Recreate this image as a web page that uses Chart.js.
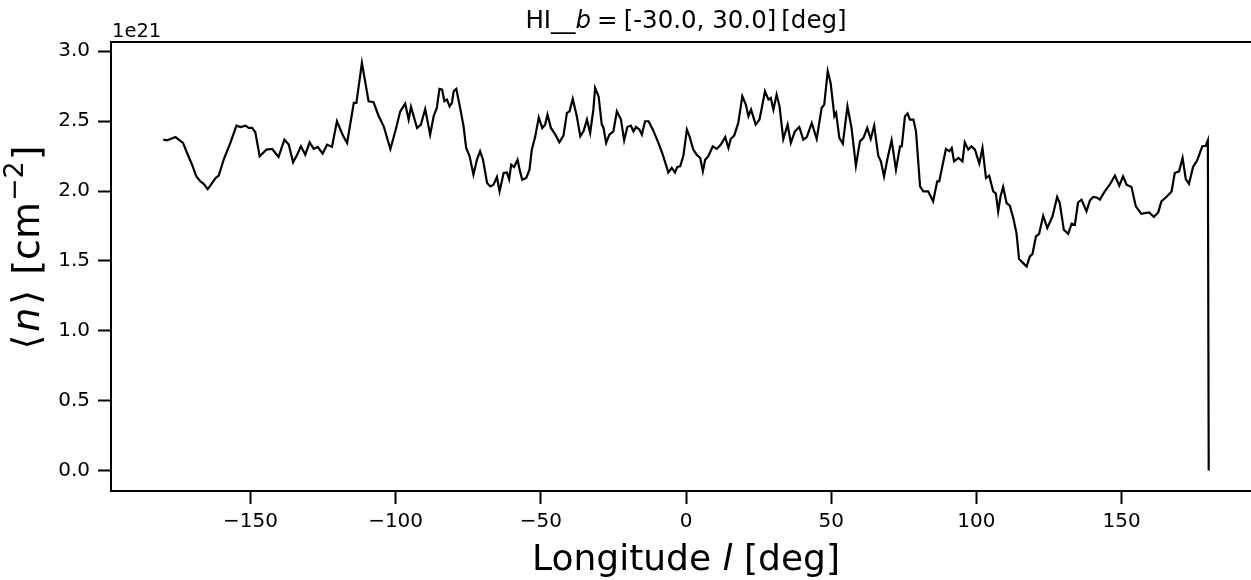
<!DOCTYPE html>
<html>
<head>
<meta charset="utf-8">
<script src="https://cdn.jsdelivr.net/npm/chart.js@4.4.1/dist/chart.umd.min.js"></script>
<style>
  html, body { margin: 0; padding: 0; background: #fff; overflow: hidden; }
  #wrap { width: 1251px; height: 580px; overflow: hidden; position: relative; }
  #chart { display: block; position: absolute; left: 0; top: 0; }
</style>
</head>
<body>
<div id="wrap"><canvas id="chart" width="1275" height="580"></canvas></div>
<script>
// galactic longitude [deg]
const longitude = [
  -180.0, -178.7, -177.5, -175.8, -174.7, -173.2, -171.8, -170.1, -168.6, -167.2,
  -166.1, -164.7, -163.2, -162.0, -160.9, -159.2, -156.9, -154.8, -153.4, -151.7,
  -150.6, -149.4, -148.3, -146.8, -144.5, -142.5, -140.3, -138.3, -136.8, -135.3,
  -133.9, -132.6, -131.1, -129.6, -128.2, -126.8, -125.1, -123.6, -121.9, -120.2,
  -118.1, -116.7, -114.4, -113.5, -111.6, -109.3, -107.6, -105.8, -104.1, -101.8,
  -100.1, -98.4, -96.7, -95.5, -94.7, -92.6, -91.3, -89.8,
  -88.1, -86.9, -85.8, -84.9, -84.0, -83.2, -82.3, -81.4, -80.6, -80.0,
  -79.1, -78.0, -76.6, -75.7, -74.5, -73.2, -72.0, -70.9, -69.9, -68.5,
  -67.4, -66.3, -65.1, -64.2, -62.8, -61.7, -60.9, -60.2, -59.2, -58.0,
  -57.3, -56.4, -55.0, -53.9, -53.1, -51.9, -50.7, -49.5, -48.5, -47.7,
  -46.5, -45.0, -43.6, -42.2, -41.0, -40.1, -39.0, -37.6, -36.4, -35.3,
  -34.1, -33.0, -31.9, -31.3, -30.1, -29.0, -28.4, -27.5, -26.4, -25.0,
  -23.8, -22.4, -21.3, -20.2, -19.0, -18.1, -17.2, -16.0, -15.2, -14.1,
  -12.9, -11.4, -9.5, -8.0, -6.1, -4.9, -3.8, -3.0, -2.0, -0.9,
  0.3, 1.2, 2.5, 3.7,
  4.9, 5.8, 6.6, 7.7, 9.2, 10.6, 12.0, 13.5, 14.6, 15.4,
  16.6, 18.0, 19.4, 20.6, 21.5, 22.4, 24.0, 25.3, 26.1, 27.2,
  28.4, 29.2, 30.1, 31.2, 32.2, 33.5, 35.0, 36.1, 37.5, 39.0,
  40.4, 41.6, 43.3, 45.0, 46.7, 47.6, 48.8, 49.8, 51.1, 51.7,
  52.8, 54.0, 55.6, 57.0, 58.5, 59.9, 61.1, 62.4, 63.6, 64.8,
  66.2, 67.1, 68.2, 69.3, 70.8, 72.3, 73.7, 74.3, 75.4, 76.3,
  77.1, 78.3, 79.2, 80.6, 81.7, 83.4, 85.1, 86.5, 87.2, 89.5,
  90.7, 91.5, 92.3, 93.8,
  95.2, 96.0, 97.2, 98.3, 99.5, 101.0, 102.1, 103.3, 104.4, 105.8,
  106.7, 107.5, 108.3, 109.2, 110.4, 111.5, 112.7, 113.8, 114.7, 116.1,
  117.3, 118.4, 119.3, 120.5, 121.6, 123.0, 124.4, 126.2, 127.8, 128.7,
  130.1, 131.6, 132.8, 133.9, 135.0, 136.2, 137.9, 139.1, 140.2, 141.4,
  142.5, 144.2, 145.9, 147.7, 149.2, 150.5, 151.7, 153.4, 154.9, 156.8,
  158.0, 159.5, 161.1, 162.6, 163.7, 165.4, 167.2, 168.3, 169.8, 171.0,
  172.1, 173.2, 174.6, 176.0, 177.8, 179.0, 179.7, 180.0
];

// mean HI column density, in units of 1e21 cm^-2
const columnDensity = [
  2.367, 2.363, 2.372, 2.386, 2.367, 2.344, 2.272, 2.188, 2.105, 2.069,
  2.052, 2.014, 2.057, 2.093, 2.110, 2.224, 2.344, 2.468, 2.458, 2.468,
  2.451, 2.451, 2.420, 2.248, 2.296, 2.301, 2.244, 2.367, 2.332, 2.205,
  2.260, 2.320, 2.260, 2.348, 2.301, 2.315, 2.267, 2.332, 2.315, 2.499,
  2.396, 2.344, 2.630, 2.630, 2.917, 2.642, 2.635, 2.535, 2.463, 2.301,
  2.427, 2.570, 2.625, 2.511, 2.602, 2.451, 2.475, 2.587,
  2.403, 2.535, 2.594, 2.731, 2.726, 2.642, 2.654, 2.606, 2.630, 2.714,
  2.731, 2.618, 2.463, 2.308, 2.249, 2.117, 2.224, 2.284, 2.224, 2.057,
  2.033, 2.045, 2.100, 1.997, 2.129, 2.133, 2.084, 2.188, 2.172, 2.224,
  2.153, 2.081, 2.093, 2.153, 2.296, 2.391, 2.527, 2.451, 2.475, 2.546,
  2.451, 2.403, 2.348, 2.396, 2.559, 2.570, 2.659, 2.535, 2.391, 2.427,
  2.511, 2.415, 2.582, 2.738, 2.678, 2.475, 2.451, 2.344, 2.403, 2.427,
  2.570, 2.511, 2.363, 2.458, 2.468, 2.427, 2.458, 2.439, 2.403, 2.499,
  2.499, 2.439, 2.344, 2.260, 2.133, 2.165, 2.133, 2.172, 2.176, 2.252,
  2.439, 2.391, 2.296, 2.260,
  2.236, 2.141, 2.224, 2.249, 2.320, 2.301, 2.332, 2.386, 2.308, 2.372,
  2.396, 2.487, 2.678, 2.618, 2.535, 2.582, 2.475, 2.511, 2.594, 2.714,
  2.654, 2.666, 2.582, 2.690, 2.606, 2.372, 2.475, 2.344, 2.427, 2.458,
  2.367, 2.386, 2.487, 2.372, 2.594, 2.618, 2.857, 2.773, 2.535, 2.559,
  2.380, 2.339, 2.606, 2.451, 2.180, 2.355, 2.380, 2.451, 2.372, 2.468,
  2.252, 2.212, 2.104, 2.224, 2.363, 2.153, 2.320, 2.320, 2.535, 2.554,
  2.511, 2.511, 2.427, 2.033, 1.997, 1.997, 1.926, 2.069, 2.069, 2.301,
  2.284, 2.308, 2.212, 2.236,
  2.212, 2.348, 2.296, 2.320, 2.296, 2.196, 2.308, 2.093, 2.110, 1.997,
  1.981, 1.854, 1.961, 2.029, 1.914, 1.895, 1.806, 1.699, 1.513, 1.484,
  1.460, 1.532, 1.549, 1.675, 1.694, 1.823, 1.735, 1.818, 1.957, 1.914,
  1.723, 1.694, 1.766, 1.759, 1.918, 1.938, 1.854, 1.933, 1.957, 1.954,
  1.938, 1.997, 2.045, 2.110, 2.038, 2.105, 2.045, 2.029, 1.890, 1.837,
  1.842, 1.847, 1.814, 1.847, 1.926, 1.957, 1.997, 2.129, 2.141, 2.236,
  2.086, 2.052, 2.172, 2.219, 2.320, 2.324, 2.362, 0.0
];

const xTicks = [-150, -100, -50, 0, 50, 100, 150];
const yTicks = [0, 0.5, 1.0, 1.5, 2.0, 2.5, 3.0];

const FONT = "'DejaVu Sans', 'Noto Sans', sans-serif";

// draw a row of text pieces (mixed italic / superscript) starting at x
function drawRun(ctx, parts, x, y) {
  parts.forEach(p => {
    x += p.gap || 0;
    ctx.font = p.font;
    ctx.fillText(p.t, x, y - (p.dy || 0));
    x += ctx.measureText(p.t).width + (p.after || 0);
  });
}

function runWidth(ctx, parts) {
  let w = 0;
  parts.forEach(p => {
    ctx.font = p.font;
    w += (p.gap || 0) + ctx.measureText(p.t).width + (p.after || 0);
  });
  return w;
}

const decor = {
  id: "decor",
  afterDraw(chart) {
    const { ctx, chartArea: a } = chart;
    ctx.save();

    // spines: left, bottom, top (the right one falls outside the picture)
    ctx.strokeStyle = "#000";
    ctx.lineWidth = 2;
    ctx.beginPath();
    ctx.moveTo(chart.width, a.top);
    ctx.lineTo(a.left, a.top);
    ctx.lineTo(a.left, a.bottom);
    ctx.lineTo(chart.width, a.bottom);
    ctx.stroke();

    ctx.fillStyle = "#000";
    ctx.textBaseline = "alphabetic";
    ctx.textAlign = "left";

    // title, centred on the axes box
    const tf = "24.5px " + FONT;
    const title = [
      { t: "HI__", font: tf },
      { t: "b", font: "italic " + tf },
      { t: "=", font: tf, gap: 6, after: 6 },
      { t: "[-30.0, 30.0]", font: tf },
      { t: "[deg]", font: tf, gap: 5 }
    ];
    const cx = (a.left + a.right) / 2;
    drawRun(ctx, title, cx - runWidth(ctx, title) / 2, 28);

    // offset text
    ctx.font = "19.5px " + FONT;
    ctx.fillText("1e21", 112, 37);

    // x label
    const lf = "36px " + FONT;
    const xl = [
      { t: "Longitude ", font: lf },
      { t: "l", font: "italic " + lf },
      { t: " [deg]", font: lf }
    ];
    drawRun(ctx, xl, cx - runWidth(ctx, xl) / 2, 570);

    // y label (rotated)
    const yf = "38px " + FONT;
    const yl = [
      { t: "\u27E8", font: yf },
      { t: "n", font: "italic " + yf, gap: 3, after: 3 },
      { t: "\u27E9", font: yf, after: 3 },
      { t: " [cm", font: yf, after: 1 },
      { t: "\u22122", font: "27px " + FONT, dy: 16 },
      { t: "]", font: yf, gap: 1 }
    ];
    ctx.translate(38.5, 247.5);
    ctx.rotate(-Math.PI / 2);
    drawRun(ctx, yl, -runWidth(ctx, yl) / 2, 0);

    ctx.restore();
  }
};

const tickFont = { family: FONT, size: 20 };
const tickGrid = {
  display: true,
  drawOnChartArea: false,
  drawTicks: true,
  tickLength: 13,
  tickWidth: 2,
  tickColor: "#000"
};

new Chart(document.getElementById("chart").getContext("2d"), {
  type: "line",
  data: {
    datasets: [{
      data: longitude.map((x, i) => ({ x: x, y: columnDensity[i] })),
      borderColor: "#000",
      borderWidth: 2.2,
      pointRadius: 0,
      tension: 0,
      fill: false
    }]
  },
  options: {
    responsive: false,
    animation: false,
    events: [],
    // canvas is wider than the window: the axes box ends ~10px past the edge
    layout: { padding: { left: 0, right: 14, top: 42, bottom: 0 } },
    plugins: {
      legend: { display: false },
      title: { display: false },
      tooltip: { enabled: false }
    },
    scales: {
      x: {
        type: "linear",
        min: -198,
        max: 198,
        afterBuildTicks: s => { s.ticks = xTicks.map(v => ({ value: v })); },
        afterFit: s => { s.height = 89; },
        grid: tickGrid,
        border: { display: false },
        ticks: {
          font: tickFont,
          color: "#000",
          padding: 6,
          maxRotation: 0,
          autoSkip: false,
          callback: v => String(v).replace("-", "\u2212")
        }
      },
      y: {
        type: "linear",
        min: -0.146,
        max: 3.066,
        afterBuildTicks: s => { s.ticks = yTicks.map(v => ({ value: v })); },
        afterFit: s => { s.width = 111; },
        grid: tickGrid,
        border: { display: false },
        ticks: {
          font: tickFont,
          color: "#000",
          padding: 8,
          autoSkip: false,
          callback: v => v.toFixed(1)
        }
      }
    }
  },
  plugins: [decor]
});
</script>
</body>
</html>
